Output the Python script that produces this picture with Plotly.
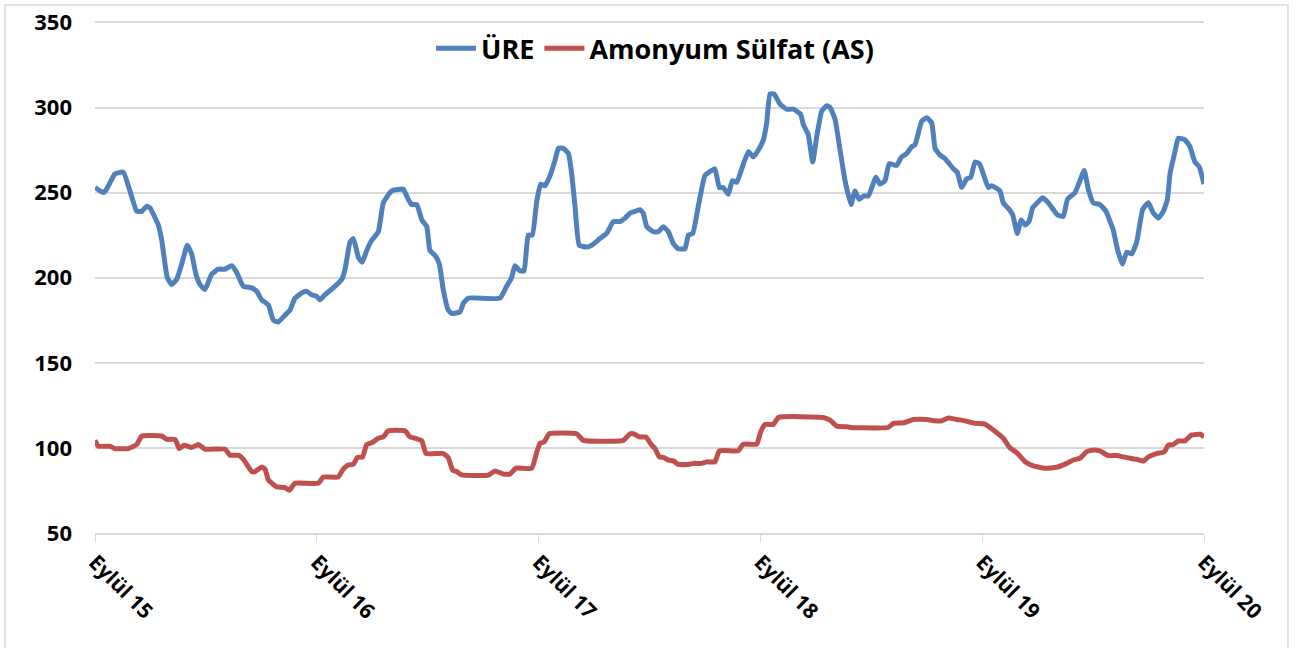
import plotly.graph_objects as go

# x = months since Eylül 2015
ure_month = [
    0, 0.45, 0.63, 1.08, 1.53, 1.89, 2.26, 2.53, 2.80, 2.98, 3.42, 3.61, 3.91, 4.15,
    4.42, 4.69, 4.99, 5.23, 5.46, 5.68, 5.95, 6.31, 6.67, 7.03, 7.40, 7.67, 8.02,
    8.48, 8.75, 9.02, 9.38, 9.65, 9.92, 10.28, 10.55, 10.82, 11.18, 11.45, 11.72,
    11.99, 12.17, 12.44, 12.89, 13.35, 13.53, 13.80, 13.98, 14.25, 14.46, 14.70,
    14.97, 15.33, 15.60, 16.05, 16.68, 16.95, 17.13, 17.41, 17.68, 17.95, 18.12,
    18.40, 18.63, 18.84, 19.11, 19.30, 19.75, 19.93, 20.20, 21.91, 22.27, 22.54,
    22.72, 22.99, 23.21, 23.44, 23.66, 23.90, 24.11, 24.35, 24.62, 24.89, 25.07,
    25.34, 25.61, 25.79, 25.97, 26.20, 26.60, 26.87, 27.32, 27.68, 28.04, 28.40,
    28.68, 28.95, 29.22, 29.49, 29.66, 29.85, 30.21, 30.48, 30.75, 31.02, 31.29,
    31.56, 31.92, 32.10, 32.34, 32.64, 33.00, 33.37, 33.54, 33.78, 33.99, 34.26,
    34.48, 34.72, 34.99, 35.35, 35.62, 35.89, 36.16, 36.34, 36.52, 36.74, 37.06,
    37.42, 37.78, 38.18, 38.32, 38.59, 38.83, 39.05, 39.32, 39.59, 39.77, 40.04,
    40.31, 40.58, 40.90, 41.12, 41.34, 41.57, 41.84, 42.25, 42.47, 42.74, 42.97,
    43.37, 43.64, 43.92, 44.19, 44.36, 44.73, 45.00, 45.27, 45.45, 45.72, 45.99,
    46.44, 46.65, 46.89, 47.16, 47.38, 47.61, 47.85, 48.06, 48.33, 48.51, 48.96,
    49.14, 49.47, 49.65, 49.90, 50.10, 50.32, 50.53, 50.73, 50.98, 51.27, 51.58,
    51.85, 52.06, 52.39, 52.61, 53.02, 53.29, 53.52, 53.74, 54.01, 54.37, 54.70,
    54.92, 55.09, 55.31, 55.58, 55.82, 56.09, 56.36, 56.68, 56.99, 57.26, 57.53,
    57.80, 58.02, 58.16, 58.43, 58.61, 58.97, 59.24, 59.51, 59.75, 60.0,
]
ure_value = [
    253, 250, 252, 261, 262, 251, 239, 239, 242, 241, 231, 222, 200, 196,
    199, 208, 219, 214, 202, 196, 193, 202, 205, 205, 207, 203, 195,
    194, 192, 187, 184, 175, 174, 178, 181, 188, 191, 192, 190,
    189, 187, 190, 194, 199, 205, 221, 223, 212, 209, 216,
    222, 227, 244, 251, 252, 246, 243, 243, 234, 230, 216,
    213, 208, 193, 181, 179, 180, 185, 188, 188, 195, 200,
    207, 204, 204, 225, 225, 245, 255, 254, 260, 269, 276,
    276, 273, 261, 242, 219, 218, 219, 223, 226, 233, 233,
    235, 238, 239, 240, 238, 230, 227, 227, 230, 227, 220,
    217, 217, 225, 226, 242, 260, 263, 264, 253, 253, 249,
    257, 256, 264, 274, 271, 275, 281, 291, 308, 308, 302,
    299, 299, 296, 290, 284, 268, 283, 298, 301, 300, 293,
    275, 257, 243, 251, 246, 248, 248, 259, 255, 257, 267,
    266, 271, 273, 277, 278, 292, 294, 291, 276, 272, 270,
    264, 262, 253, 258, 259, 268, 267, 261, 253, 254, 251,
    244, 240, 237, 226, 234, 231, 233, 241, 244, 247, 244,
    240, 237, 236, 246, 250, 257, 263, 252, 244, 243, 239,
    233, 228, 217, 208, 215, 214, 221, 240, 244, 238, 235,
    239, 246, 261, 274, 282, 281, 277, 268, 265, 255,
]

as_month = [
    0, 0.18, 0.81, 1.08, 1.80, 2.26, 2.53, 3.61, 3.88, 4.33, 4.56, 4.82, 5.23, 5.59,
    5.95, 7.03, 7.30, 7.75, 8.02, 8.48, 8.66, 9.02, 9.20, 9.38, 9.83, 10.28, 10.51,
    10.82, 12.08, 12.35, 13.16, 13.43, 13.70, 13.98, 14.19, 14.48, 14.70, 14.97,
    15.33, 15.60, 15.87, 16.77, 17.04, 17.31, 17.68, 17.91, 18.84, 19.11, 19.35,
    19.57, 19.84, 21.28, 21.64, 22.09, 22.45, 22.78, 23.63, 23.90, 24.08, 24.29,
    24.58, 26.06, 26.42, 28.58, 28.95, 29.12, 29.49, 29.81, 30.12, 30.30, 30.53,
    30.75, 31.02, 31.29, 31.56, 32.10, 32.37, 32.82, 33.10, 33.54, 33.78, 34.80,
    35.07, 35.80, 36.02, 36.25, 36.70, 36.97, 39.40, 39.77, 40.13, 40.67, 41.03,
    41.39, 42.92, 43.19, 43.73, 44.27, 45.00, 45.45, 45.81, 46.17, 46.62, 47.07,
    47.61, 48.15, 48.60, 49.14, 49.47, 49.87, 50.32, 50.77, 51.40, 52.03, 52.57,
    52.93, 53.29, 53.65, 54.01, 54.37, 54.82, 55.28, 55.63, 56.00, 56.36, 56.72,
    56.99, 57.44, 57.84, 58.07, 58.34, 58.61, 58.97, 59.32, 59.80, 60.0,
]
as_value = [
    104.5, 101, 101, 99.6, 99.6, 102, 107, 107, 105, 105, 99.6, 101.6, 100.2, 102,
    99.3, 99.3, 95.7, 95.7, 93.4, 86.1, 86.1, 88.8, 87.5, 81.2, 77.1, 76.7, 75.1,
    79.2, 79.2, 82.9, 82.9, 87.5, 90, 90.4, 94.3, 94.8, 102, 103,
    105.7, 106.5, 110, 110, 106.5, 105.7, 104.2, 96.7, 96.7, 94.3, 86.9,
    86.1, 84.1, 84, 86.5, 84.6, 84.6, 88.1, 88.1, 97.5, 102.8, 103.4,
    108.3, 108.3, 104.4, 104.4, 108.3, 108.3, 106.4, 106.4, 101.6, 99.6, 94.7,
    94.4, 92.8, 92.4, 90.3, 90.3, 90.9, 90.9, 91.8, 91.8, 98.3, 98.3,
    102.2, 102.2, 109.5, 113.8, 113.8, 117.9, 117.9, 116.3, 112.8, 112.4, 111.8,
    111.8, 112, 114.4, 114.7, 116.7, 116.7, 115.9, 115.9, 117.6, 116.7, 115.9,
    114.4, 114, 110.5, 105.7, 100.4, 97.2, 91.9, 89.4, 88, 88.6, 90.9,
    92.9, 93.9, 97.8, 98.8, 98.2, 95.5, 95.5, 94.7, 93.9, 93.3, 92.3,
    94.7, 96.7, 97.6, 101.6, 102, 104.1, 104.1, 107.5, 108, 106.4,
]

tick_months = [0, 12, 24, 36, 48, 60]
tick_labels = ["Eylül 15", "Eylül 16", "Eylül 17", "Eylül 18", "Eylül 19", "Eylül 20"]
y_ticks = [50, 100, 150, 200, 250, 300, 350]

BLUE = "#4F81BD"
RED = "#C0504D"
GRID = "#D9D9D9"
FONT = "Open Sans"

fig = go.Figure()
fig.add_trace(
    go.Scatter(
        x=ure_month, y=ure_value, mode="lines", name="ÜRE",
        line=dict(color=BLUE, width=5, shape="spline", smoothing=0.4),
    )
)
fig.add_trace(
    go.Scatter(
        x=as_month, y=as_value, mode="lines", name="Amonyum Sülfat (AS)",
        line=dict(color=RED, width=5, shape="spline", smoothing=0.4),
    )
)

fig.update_layout(
    width=1297,
    height=648,
    paper_bgcolor="white",
    plot_bgcolor="white",
    margin=dict(l=95, r=93, t=19, b=115, autoexpand=False),
    font=dict(family=FONT, size=21, color="black", weight="bold"),
    legend=dict(
        orientation="h", x=0.505, xanchor="center", y=0.99, yanchor="top",
        font=dict(family=FONT, size=27, color="black", weight="bold"),
        bgcolor="rgba(0,0,0,0)", itemwidth=40,
    ),
    shapes=[
        dict(
            type="rect", xref="paper", yref="paper",
            x0=-0.0812, x1=1.0757, y0=-0.25, y1=1.0272,
            line=dict(color=GRID, width=1.5), layer="below",
        )
    ],
)
fig.update_xaxes(
    range=[0, 60],
    tickmode="array", tickvals=tick_months, ticktext=tick_labels,
    tickangle=45, ticks="outside", ticklen=7, tickcolor=GRID,
    showgrid=False, showline=True, linecolor=GRID, linewidth=1.5,
    zeroline=False, ticklabeloverflow="allow", automargin=False,
    tickfont=dict(family=FONT, size=21, color="black", weight="bold"),
)
fig.update_yaxes(
    range=[50, 352], tickmode="array", tickvals=y_ticks,
    showgrid=True, gridcolor=GRID, gridwidth=1.5,
    zeroline=False, showline=False, ticks="", ticklabelstandoff=22,
    ticklabeloverflow="allow", automargin=False,
    tickfont=dict(family=FONT, size=22, color="black", weight="bold"),
)

# drop the default 8px page margin so the figure sits at the window's corner
fig.write_html(
    "out.html",
    config={"displayModeBar": False},
    post_script="document.body.style.margin = '0';",
)
